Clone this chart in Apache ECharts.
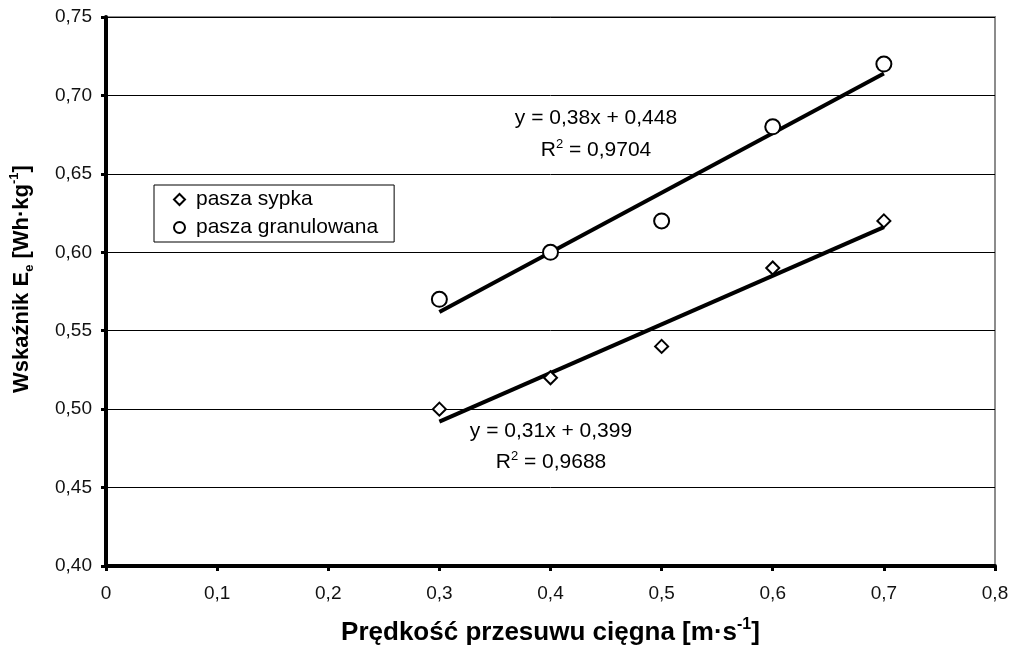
<!DOCTYPE html>
<html><head><meta charset="utf-8">
<script src="https://cdn.jsdelivr.net/npm/echarts@6/dist/echarts.min.js"></script>
<style>html,body{margin:0;padding:0;background:#fff}#c{width:1014px;height:649px}</style>
</head><body><div id="c"></div>
<script>
var xValues = [0.3, 0.4, 0.5, 0.6, 0.7];
var sypka = [0.50, 0.52, 0.54, 0.59, 0.62];
var granulowana = [0.57, 0.60, 0.62, 0.68, 0.72];
var trendSypka = [[0.3, 0.492], [0.7, 0.616]];
var trendGran = [[0.3, 0.562], [0.7, 0.714]];
var seriesNames = ['pasza sypka', 'pasza granulowana'];
var eqGran = ['y = 0,38x + 0,448', '{r|R}{sup|2}{r| = 0,9704}'];
var eqSypka = ['y = 0,31x + 0,399', '{r|R}{sup|2}{r| = 0,9688}'];

var font = 'Arial, "Liberation Sans", sans-serif';
function pairs(xs, ys){ return xs.map(function(x,i){ return [x, ys[i]]; }); }
function fmt(v, d){ return v.toFixed(d).replace('.', ','); }

var chart = echarts.init(document.getElementById('c'));
function richFor(sz){
  return {
    b: {fontSize: sz, fontWeight: 'bold', fontFamily: font, color: '#000', lineHeight: sz + 6},
    sub: {fontSize: Math.round(sz*0.6), fontWeight: 'bold', fontFamily: font, color: '#000', verticalAlign: 'bottom', lineHeight: sz + 6, padding: [8,0,0,0]},
    sup: {fontSize: Math.round(sz*0.6), fontWeight: 'bold', fontFamily: font, color: '#000', verticalAlign: 'top', lineHeight: sz + 6, padding: [0,0,10,0]}
  };
}
var richEq = {
  r: {fontSize: 21, fontFamily: font, color: '#000', lineHeight: 24},
  sup: {fontSize: 13, fontFamily: font, color: '#000', lineHeight: 24, verticalAlign: 'top', padding: [0,0,8,0]}
};
chart.setOption({
  animation: false,
  grid: {left: 106, right: 19, top: 17, bottom: 83, outerBoundsMode: 'none', containLabel: false,
         show: true, borderColor: '#8c8c8c', borderWidth: 2, backgroundColor: 'transparent'},
  legend: {
    orient: 'vertical', left: 154, top: 185, itemGap: 7, itemWidth: 11, itemHeight: 11,
    borderColor: '#000', borderWidth: 1, padding: [4, 16, 4, 19],
    textStyle: {fontSize: 21, fontFamily: font, color: '#000', padding: [0,0,0,6]},
    data: [
      {name: seriesNames[0], icon: 'diamond', itemStyle: {color: '#fff', borderColor: '#000', borderWidth: 2}},
      {name: seriesNames[1], icon: 'circle', itemStyle: {color: '#fff', borderColor: '#000', borderWidth: 2}}
    ]
  },
  xAxis: {
    type: 'value', min: 0, max: 0.8, interval: 0.1,
    name: '{b|Prędkość przesuwu cięgna [m·s}{sup|-1}{b|]}',
    nameLocation: 'middle', nameGap: 51, nameMoveOverlap: false, nameTextStyle: {rich: richFor(26)},
    axisLine: {lineStyle: {color: '#000', width: 4}},
    axisTick: {show: true, length: 5, lineStyle: {color: '#000', width: 3}},
    axisLabel: {fontSize: 19, fontFamily: font, color: '#111', margin: 18, formatter: function(v){ return v === 0 ? '0' : fmt(v,1); }},
    splitLine: {show: false}
  },
  yAxis: {
    type: 'value', min: 0.40, max: 0.75, interval: 0.05,
    name: '{b|Wskaźnik E}{sub|e}{b| [Wh·kg}{sup|-1}{b|]}',
    nameLocation: 'middle', nameGap: 70, nameRotate: 90, nameMoveOverlap: false,
    nameTextStyle: {rich: richFor(22), padding: [0, 0, 0, 25]},
    axisLine: {lineStyle: {color: '#000', width: 4}},
    axisTick: {show: true, length: 5, lineStyle: {color: '#000', width: 3}},
    axisLabel: {fontSize: 19, fontFamily: font, color: '#111', margin: 14, formatter: function(v){ return fmt(v,2); }},
    splitLine: {show: true, lineStyle: {color: '#000', width: 1}}
  },
  series: [
    {name: 'trend sypka', type: 'line', data: trendSypka, symbol: 'none', lineStyle: {color: '#000', width: 4}, z: 2, silent: true},
    {name: 'trend granulowana', type: 'line', data: trendGran, symbol: 'none', lineStyle: {color: '#000', width: 4}, z: 2, silent: true},
    {name: seriesNames[0], type: 'scatter', data: pairs(xValues, sypka), symbol: 'diamond', symbolSize: 13,
     itemStyle: {color: '#fff', borderColor: '#000', borderWidth: 2, opacity: 1}, z: 3},
    {name: seriesNames[1], type: 'scatter', data: pairs(xValues, granulowana), symbol: 'circle', symbolSize: 15,
     itemStyle: {color: '#fff', borderColor: '#000', borderWidth: 2, opacity: 1}, z: 3}
  ],
  graphic: [
    {type: 'text', x: 596, y: 118, style: {text: eqGran[0], font: '21px ' + font, fill: '#000', align: 'center', verticalAlign: 'middle'}},
    {type: 'text', x: 596, y: 150, style: {text: eqGran[1], rich: richEq, align: 'center', verticalAlign: 'middle'}},
    {type: 'text', x: 551, y: 431, style: {text: eqSypka[0], font: '21px ' + font, fill: '#000', align: 'center', verticalAlign: 'middle'}},
    {type: 'text', x: 551, y: 462, style: {text: eqSypka[1], rich: richEq, align: 'center', verticalAlign: 'middle'}}
  ]
});
</script></body></html>
